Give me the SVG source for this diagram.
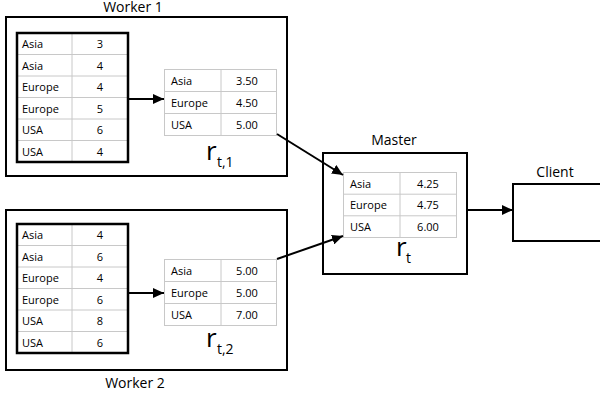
<svg xmlns="http://www.w3.org/2000/svg" width="600" height="398" viewBox="0 0 600 398">
<defs>
<marker id="ah" markerUnits="userSpaceOnUse" markerWidth="11" markerHeight="10" refX="11" refY="5" orient="auto">
<path d="M0,0 L11,5 L0,10 z" fill="#000"/>
</marker>
<style>
.box{fill:#fff;stroke:#000;stroke-width:2}
.grid{fill:none;stroke:#c8c8c8;stroke-width:1}
.tbl{fill:none;stroke:#000;stroke-width:2.5}
.lbl{font-family:"Open Sans","Noto Sans",sans-serif;font-size:14px;fill:#000;text-anchor:middle}
.c{font-family:"Open Sans","Noto Sans",sans-serif;font-size:11px;fill:#000}
.n{font-family:"Open Sans","Noto Sans",sans-serif;font-size:11px;fill:#000;text-anchor:middle}
.r{font-family:"Open Sans","Noto Sans",sans-serif;font-size:26px;fill:#000}
.s{font-size:14px}
.conn{fill:none;stroke:#000;stroke-width:2;marker-end:url(#ah)}
</style>
</defs>
<rect width="600" height="398" fill="#fff"/>

<g id="worker1">
<rect class="box" x="6" y="17" width="281" height="159"/>
<text class="lbl" x="133" y="12">Worker 1</text>
<g id="w1-data">
<path class="grid" d="M72,33 V162 M17,54.5 H128 M17,76 H128 M17,97.5 H128 M17,119 H128 M17,140.5 H128"/>
<rect class="tbl" x="17" y="33" width="111" height="129"/>
<text class="c" x="22" y="48">Asia</text><text class="n" x="100" y="48">3</text>
<text class="c" x="22" y="69.5">Asia</text><text class="n" x="100" y="69.5">4</text>
<text class="c" x="22" y="91">Europe</text><text class="n" x="100" y="91">4</text>
<text class="c" x="22" y="112.5">Europe</text><text class="n" x="100" y="112.5">5</text>
<text class="c" x="22" y="134">USA</text><text class="n" x="100" y="134">6</text>
<text class="c" x="22" y="155.5">USA</text><text class="n" x="100" y="155.5">4</text>
</g>
<g id="w1-result">
<rect class="grid" x="164.5" y="69.5" width="112" height="66"/>
<path class="grid" d="M221,69.5 V135.5 M164.5,91.5 H276.5 M164.5,113.5 H276.5"/>
<text class="c" x="171" y="85">Asia</text><text class="n" x="247" y="85">3.50</text>
<text class="c" x="171" y="107">Europe</text><text class="n" x="247" y="107">4.50</text>
<text class="c" x="171" y="129">USA</text><text class="n" x="247" y="129">5.00</text>
<text class="r" x="206" y="160">r<tspan class="s" x="217" y="167">t,1</tspan></text>
</g>
</g>

<g id="worker2">
<rect class="box" x="6" y="210" width="281" height="160"/>
<text class="lbl" x="135" y="388">Worker 2</text>
<g id="w2-data">
<path class="grid" d="M72,224 V353 M17,245.5 H128 M17,267 H128 M17,288.5 H128 M17,310 H128 M17,331.5 H128"/>
<rect class="tbl" x="17" y="224" width="111" height="129"/>
<text class="c" x="22" y="239">Asia</text><text class="n" x="100" y="239">4</text>
<text class="c" x="22" y="260.5">Asia</text><text class="n" x="100" y="260.5">6</text>
<text class="c" x="22" y="282">Europe</text><text class="n" x="100" y="282">4</text>
<text class="c" x="22" y="303.5">Europe</text><text class="n" x="100" y="303.5">6</text>
<text class="c" x="22" y="325">USA</text><text class="n" x="100" y="325">8</text>
<text class="c" x="22" y="346.5">USA</text><text class="n" x="100" y="346.5">6</text>
</g>
<g id="w2-result">
<rect class="grid" x="164.5" y="259.5" width="112" height="66"/>
<path class="grid" d="M221,259.5 V325.5 M164.5,281.5 H276.5 M164.5,303.5 H276.5"/>
<text class="c" x="171" y="275">Asia</text><text class="n" x="247" y="275">5.00</text>
<text class="c" x="171" y="297">Europe</text><text class="n" x="247" y="297">5.00</text>
<text class="c" x="171" y="319">USA</text><text class="n" x="247" y="319">7.00</text>
<text class="r" x="206" y="347">r<tspan class="s" x="217" y="354">t,2</tspan></text>
</g>
</g>

<g id="master">
<rect class="box" x="323" y="153" width="144" height="121"/>
<text class="lbl" x="394" y="145">Master</text>
<rect class="grid" x="343.5" y="172.5" width="113" height="65"/>
<path class="grid" d="M400,172.5 V237.5 M343.5,194.2 H456.5 M343.5,215.8 H456.5"/>
<text class="c" x="350" y="187.5">Asia</text><text class="n" x="428" y="187.5">4.25</text>
<text class="c" x="350" y="209">Europe</text><text class="n" x="428" y="209">4.75</text>
<text class="c" x="350" y="231">USA</text><text class="n" x="428" y="231">6.00</text>
<text class="r" x="396" y="256">r<tspan class="s" x="406" y="263">t</tspan></text>
</g>

<g id="client">
<rect class="box" x="513" y="184" width="92" height="57"/>
<text class="lbl" x="555" y="177">Client</text>
</g>

<g id="connectors">
<line class="conn" x1="128" y1="99" x2="164" y2="99"/>
<line class="conn" x1="128" y1="293" x2="164" y2="293"/>
<line class="conn" x1="277" y1="134" x2="343" y2="175"/>
<line class="conn" x1="277" y1="259" x2="343" y2="236"/>
<line class="conn" x1="467" y1="210" x2="513" y2="210"/>
</g>
</svg>
